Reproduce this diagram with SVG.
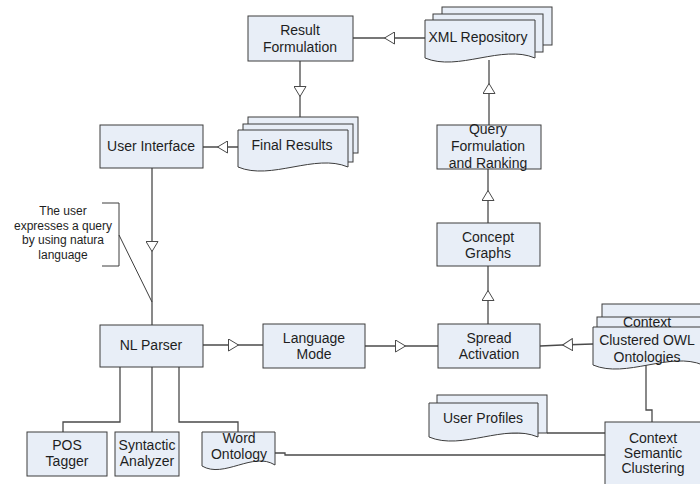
<svg xmlns="http://www.w3.org/2000/svg" width="700" height="484" viewBox="0 0 700 484">
<style>
.box{fill:#e8eef7;stroke:#3d3d3d;stroke-width:1}
.t{font-family:"Liberation Sans",Arial,sans-serif;font-size:14px;fill:#1e1e1e;text-anchor:middle}
.a{font-family:"Liberation Sans",Arial,sans-serif;font-size:12px;fill:#1e1e1e;text-anchor:middle}
.c{fill:none;stroke:#4a4a4a;stroke-width:1.3}
.tri{marker-mid:url(#tri)}
</style>
<defs>
<marker id="tri" viewBox="0 0 11 13" refX="11" refY="6.5" markerWidth="11" markerHeight="13" markerUnits="userSpaceOnUse" orient="auto">
<path d="M0.5,0.5 L10.5,6.5 L0.5,12.5 Z" fill="#fff" stroke="#4a4a4a" stroke-width="1"/>
</marker>
</defs>
<rect width="700" height="484" fill="#fff"/>

<g id="connectors">
<path class="c tri" d="M425,38 L384,38 L353,38"/>
<path class="c tri" d="M300,61 L300,97 L300,117"/>
<path class="c tri" d="M238,147 L217,147 L203,147"/>
<path class="c tri" d="M152,168 L152,252 L152,325"/>
<path class="c tri" d="M203,345 L239,345 L263,345"/>
<path class="c tri" d="M365,346 L406,346 L438,346"/>
<path class="c tri" d="M593,344 L562,345 L540,346"/>
<path class="c tri" d="M488,324 L488,290 L488,266"/>
<path class="c tri" d="M488,223 L488,190 L488,169"/>
<path class="c tri" d="M489,125 L489,83 L489,60"/>
<path class="c" d="M120,367 V422 H63 V432"/>
<path class="c" d="M152,367 V432"/>
<path class="c" d="M179,367 V422 H238 V432"/>
<path class="c" d="M275,453 H285 V455 H605"/>
<path class="c" d="M547,433 H605"/>
<path class="c" d="M646,365 V410 H652 V422"/>
</g>

<g id="annotation">
<path d="M102,203 H119 V266 H102" fill="none" stroke="#3d3d3d" stroke-width="1"/>
<path d="M119,235 L152,302" fill="none" stroke="#3d3d3d" stroke-width="1"/>
<text class="a" x="63" y="215">The user</text>
<text class="a" x="63" y="229.5">expresses a query</text>
<text class="a" x="63" y="244">by using natura</text>
<text class="a" x="63" y="258.5">language</text>
</g>

<g id="result-formulation">
<rect class="box" x="248" y="16" width="105" height="45"/>
<text class="t" x="300" y="35">Result</text>
<text class="t" x="300" y="52">Formulation</text>
</g>

<g id="xml-repository">
<rect class="box" x="442" y="7" width="110" height="38"/>
<rect class="box" x="433" y="14" width="110" height="38"/>
<path class="box" d="M425,20 H535 V58 C502,44 458,72 425,58 Z"/>
<text class="t" x="478" y="42">XML Repository</text>
</g>

<g id="user-interface">
<rect class="box" x="100" y="125" width="103" height="43"/>
<text class="t" x="151" y="151">User Interface</text>
</g>

<g id="final-results">
<rect class="box" x="248" y="117" width="110" height="36"/>
<rect class="box" x="243" y="124" width="110" height="38"/>
<path class="box" d="M238,130 H348 V167 C315,153 271,181 238,167 Z"/>
<text class="t" x="292" y="150">Final Results</text>
</g>

<g id="query-formulation">
<rect class="box" x="437" y="125" width="104" height="44"/>
<text class="t" x="488" y="134">Query</text>
<text class="t" x="488" y="151">Formulation</text>
<text class="t" x="488" y="168">and Ranking</text>
</g>

<g id="concept-graphs">
<rect class="box" x="437" y="223" width="103" height="43"/>
<text class="t" x="488" y="242">Concept</text>
<text class="t" x="488" y="258">Graphs</text>
</g>

<g id="nl-parser">
<rect class="box" x="100" y="325" width="103" height="42"/>
<text class="t" x="151" y="350">NL Parser</text>
</g>

<g id="language-model">
<rect class="box" x="263" y="324" width="102" height="44"/>
<text class="t" x="314" y="343">Language</text>
<text class="t" x="314" y="359">Mode</text>
</g>

<g id="spread-activation">
<rect class="box" x="438" y="324" width="102" height="44"/>
<text class="t" x="489" y="343">Spread</text>
<text class="t" x="489" y="359">Activation</text>
</g>

<g id="context-owl">
<rect class="box" x="602" y="304" width="110" height="38"/>
<rect class="box" x="597" y="317" width="110" height="38"/>
<path class="box" d="M593,327 H703 V365 C670,351 626,379 593,365 Z"/>
<text class="t" x="647" y="327">Context</text>
<text class="t" x="647" y="345">Clustered OWL</text>
<text class="t" x="647" y="362">Ontologies</text>
</g>

<g id="user-profiles">
<rect class="box" x="437" y="395" width="110" height="38"/>
<path class="box" d="M429,403 H538 V437 C505,423 462,451 429,437 Z"/>
<text class="t" x="483" y="423">User Profiles</text>
</g>

<g id="context-semantic-clustering">
<rect class="box" x="605" y="422" width="110" height="80"/>
<text class="t" x="653" y="443">Context</text>
<text class="t" x="653" y="458">Semantic</text>
<text class="t" x="653" y="473">Clustering</text>
</g>

<g id="pos-tagger">
<rect class="box" x="27" y="432" width="80" height="44"/>
<text class="t" x="67" y="450">POS</text>
<text class="t" x="67" y="466">Tagger</text>
</g>

<g id="syntactic-analyzer">
<rect class="box" x="115" y="432" width="64" height="44"/>
<text class="t" x="147" y="450">Syntactic</text>
<text class="t" x="147" y="466">Analyzer</text>
</g>

<g id="word-ontology">
<path class="box" d="M202,432 H275 V465 C253,451 224,479 202,466 Z"/>
<text class="t" x="239" y="443">Word</text>
<text class="t" x="239" y="459">Ontology</text>
</g>
</svg>
